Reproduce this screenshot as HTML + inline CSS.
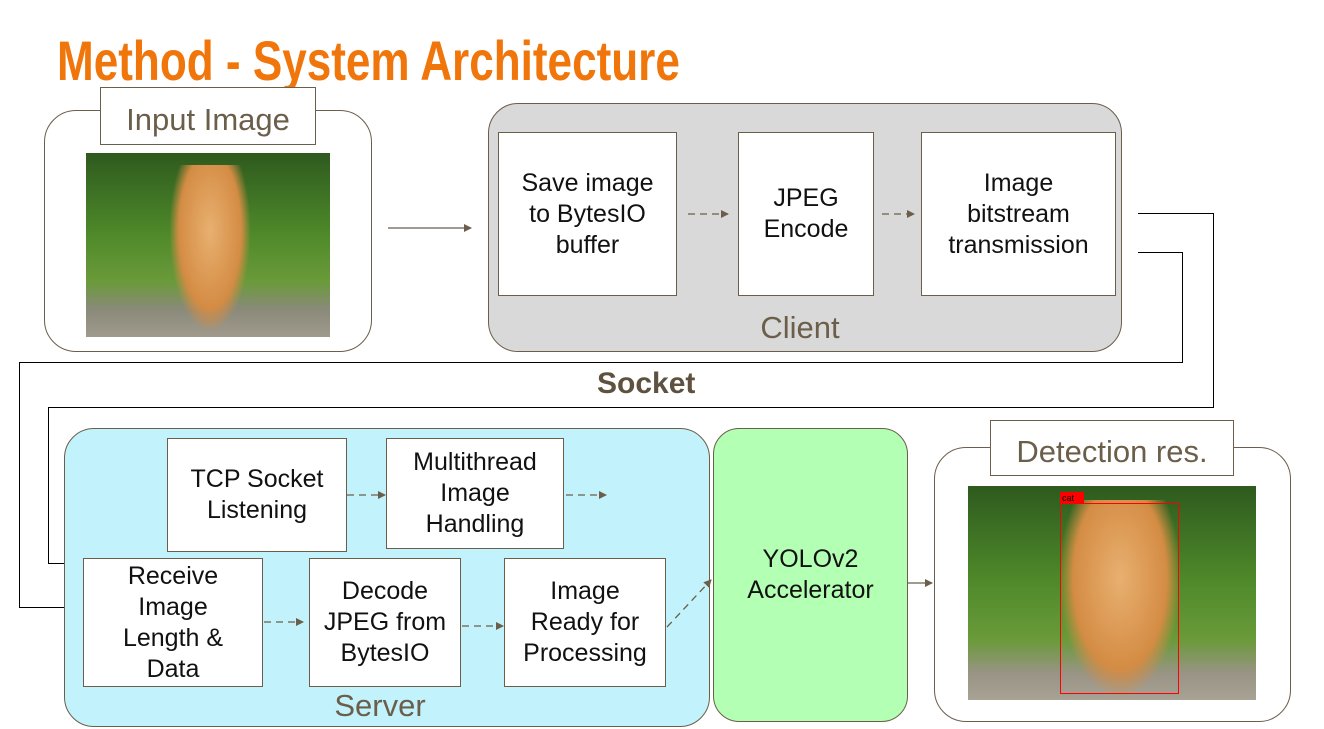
<!DOCTYPE html>
<html><head><meta charset="utf-8"><style>
body{margin:0;width:1324px;height:729px;background:#fff;position:relative;overflow:hidden;font-family:"Liberation Sans",sans-serif}
.a{position:absolute;box-sizing:border-box}
.bx{position:absolute;box-sizing:border-box;background:#fff;border:1px solid #6b5e4a;display:flex;align-items:center;justify-content:center;text-align:center;font-size:25px;line-height:31px;color:#111}
.lbl{position:absolute;font-size:31px;color:#6b5e4a;text-align:center}
</style></head><body>
<div class="a" style="left:57px;top:28px;font-weight:bold;font-size:56px;color:#f0760c;transform:scaleX(0.787);transform-origin:0 0;white-space:nowrap">Method - System Architecture</div>

<div class="a" style="left:44px;top:110px;width:328px;height:242px;border:1px solid #6b5e4a;border-radius:32px"></div>
<div class="bx" style="left:100px;top:87px;width:216px;height:58px;font-size:31px;color:#6b5e4a;padding-top:6px">Input Image</div>
<div class="a" style="left:86px;top:153px;width:244px;height:184px;background:linear-gradient(180deg,#2e5a1e 0%,#4f8a2a 45%,#6a9a3a 70%,#8a8a7a 85%,#a09a8c 100%)"></div>
<div class="a" style="left:170px;top:165px;width:80px;height:165px;background:radial-gradient(ellipse at 50% 40%,#e8b070 0%,#d48c44 55%,rgba(210,140,70,0) 72%)"></div>

<div class="a" style="left:488px;top:103px;width:634px;height:249px;background:#d9d9d9;border:1px solid #6b5e4a;border-radius:30px"></div>
<div class="bx" style="left:498px;top:132px;width:179px;height:164px">Save image<br>to BytesIO<br>buffer</div>
<div class="bx" style="left:738px;top:132px;width:136px;height:164px">JPEG<br>Encode</div>
<div class="bx" style="left:921px;top:132px;width:195px;height:164px">Image<br>bitstream<br>transmission</div>
<div class="lbl" style="left:700px;top:310px;width:200px">Client</div>

<div class="a" style="left:597px;top:367px;font-size:30px;font-weight:bold;color:#5e5140">Socket</div>

<div class="a" style="left:64px;top:428px;width:646px;height:299px;background:#c2f3fc;border:1px solid #6b5e4a;border-radius:30px"></div>
<div class="bx" style="left:167px;top:438px;width:180px;height:114px">TCP Socket<br>Listening</div>
<div class="bx" style="left:386px;top:438px;width:178px;height:111px">Multithread<br>Image<br>Handling</div>
<div class="bx" style="left:83px;top:558px;width:180px;height:129px">Receive<br>Image<br>Length &amp;<br>Data</div>
<div class="bx" style="left:309px;top:558px;width:152px;height:129px">Decode<br>JPEG from<br>BytesIO</div>
<div class="bx" style="left:504px;top:558px;width:162px;height:129px">Image<br>Ready for<br>Processing</div>
<div class="lbl" style="left:280px;top:688px;width:200px">Server</div>

<div class="a" style="left:713px;top:428px;width:195px;height:294px;background:#b3ffb3;border:1px solid #6b5e4a;border-radius:26px;display:flex;align-items:center;justify-content:center;text-align:center;font-size:25px;line-height:31px;color:#111">YOLOv2<br>Accelerator</div>

<div class="a" style="left:934px;top:447px;width:357px;height:275px;border:1px solid #6b5e4a;border-radius:32px"></div>
<div class="bx" style="left:990px;top:420px;width:244px;height:56px;font-size:31px;color:#6b5e4a;padding-top:6px">Detection res.</div>
<div class="a" style="left:968px;top:486px;width:288px;height:214px;background:linear-gradient(180deg,#2e5a1e 0%,#4f8a2a 45%,#6a9a3a 72%,#9a9486 88%,#a8a294 100%)"></div>
<div class="a" style="left:1060px;top:500px;width:120px;height:195px;background:radial-gradient(ellipse at 50% 40%,#e8b070 0%,#d48c44 55%,rgba(210,140,70,0) 72%)"></div>
<div class="a" style="left:1060px;top:503px;width:119px;height:191px;border:1px solid #f00"></div>
<div class="a" style="left:1060px;top:492px;width:24px;height:12px;background:#f00;font-size:9px;line-height:12px;color:#000;padding-left:2px">cat</div>

<svg class="a" style="left:0;top:0" width="1324" height="729">
<defs><marker id="ar" markerWidth="8" markerHeight="8" refX="7" refY="4" orient="auto" markerUnits="userSpaceOnUse"><path d="M0,0 L8,4 L0,8z" fill="#6b5e4a"/></marker></defs>
<g stroke="#6b5e4a" stroke-width="1.3" fill="none">
<line x1="388" y1="228" x2="471" y2="228" marker-end="url(#ar)"/>
<line x1="908" y1="583" x2="932" y2="583" marker-end="url(#ar)"/>
<g stroke-dasharray="7,5">
<line x1="688" y1="214" x2="728" y2="214" marker-end="url(#ar)"/>
<line x1="882" y1="214" x2="914" y2="214" marker-end="url(#ar)"/>
<line x1="347" y1="495" x2="385" y2="495" marker-end="url(#ar)"/>
<line x1="566" y1="495" x2="606" y2="495" marker-end="url(#ar)"/>
<line x1="264" y1="622" x2="303" y2="622" marker-end="url(#ar)"/>
<line x1="462" y1="626" x2="503" y2="626" marker-end="url(#ar)"/>
<line x1="667" y1="627" x2="711" y2="580" marker-end="url(#ar)"/>
</g></g>
<g stroke="#000" stroke-width="1" fill="none">
<polyline points="1138,213.5 1213.5,213.5 1213.5,407.5 48.5,407.5 48.5,563.5 64,563.5"/>
<polyline points="1138,252.5 1182.5,252.5 1182.5,362.5 19.5,362.5 19.5,607.5 64,607.5"/>
</g>
</svg>
</body></html>
